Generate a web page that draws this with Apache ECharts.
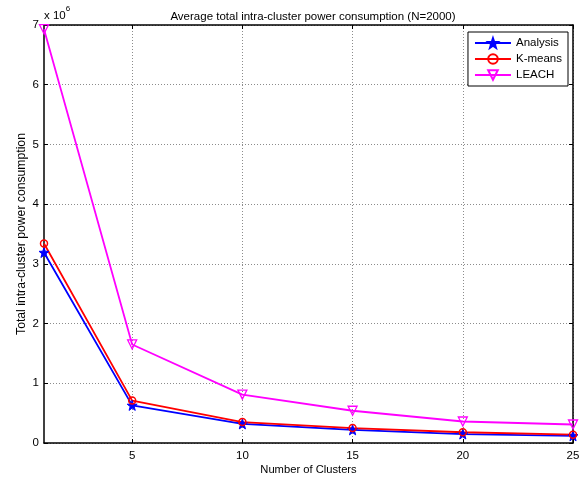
<!DOCTYPE html>
<html>
<head>
<meta charset="utf-8">
<script src="https://cdn.jsdelivr.net/npm/echarts@6/dist/echarts.min.js"></script>
<style>html,body{margin:0;padding:0;background:#fff}#c{width:580px;height:477px}</style>
</head>
<body>
<div id="c"></div>
<script>
const clusters = [1, 5, 10, 15, 20, 25];
const analysis = [3.19e6, 0.63e6, 0.32e6, 0.22e6, 0.15e6, 0.12e6];
const kmeans = [3.34e6, 0.71e6, 0.35e6, 0.25e6, 0.18e6, 0.14e6];
const leach = [6.93e6, 1.65e6, 0.81e6, 0.54e6, 0.36e6, 0.31e6];
const xTicks = [5, 10, 15, 20, 25];
const yTicks = [0, 1, 2, 3, 4, 5, 6, 7];
const seriesNames = ['Analysis', 'K-means', 'LEACH'];

const FONT = 'Liberation Sans, Arial, sans-serif';
const star = 'path://M0,-10 L2.35,-3.24 L9.51,-3.09 L3.80,1.24 L5.88,8.09 L0,4 L-5.88,8.09 L-3.80,1.24 L-9.51,-3.09 L-2.35,-3.24 Z';
const pair = (xs, ys) => xs.map((x, i) => [x, ys[i]]);

const chart = echarts.init(document.getElementById('c'), null, {renderer: 'canvas'});
const gridLine = {show: true, lineStyle: {color: '#8c8c8c', type: [1, 2], width: 1}};
const axisLine = {show: true, onZero: false, lineStyle: {color: '#000', width: 1.5}};
chart.setOption({
  animation: false,
  backgroundColor: '#fff',
  title: {
    text: 'Average total intra-cluster power consumption (N=2000)',
    left: 308, top: 6, textAlign: 'center',
    textStyle: {fontFamily: FONT, fontSize: 11.5, fontWeight: 'normal', color: '#000'}
  },
  graphic: [{
    type: 'text', left: 44, top: 5,
    style: {
      text: '{a|x 10}{b|6}',
      rich: {
        a: {fontFamily: FONT, fontSize: 11.5, fill: '#000', padding: [5, 0, 0, 0]},
        b: {fontFamily: FONT, fontSize: 8, fill: '#000', verticalAlign: 'top'}
      }
    }
  }],
  legend: {
    orient: 'vertical', right: 12, top: 32,
    data: seriesNames,
    backgroundColor: '#fff', borderColor: '#000', borderWidth: 1,
    padding: [5, 6, 5, 6], itemGap: 4, itemWidth: 36, itemHeight: 12,
    textStyle: {fontFamily: FONT, fontSize: 11.5, color: '#000'}
  },
  grid: {left: 44, right: 7, top: 25, bottom: 34, outerBoundsMode: 'none', containLabel: false},
  xAxis: [{
    type: 'value', min: 1, max: 25,
    name: 'Number of Clusters', nameLocation: 'middle', nameGap: 21, nameMoveOverlap: false,
    nameTextStyle: {fontFamily: FONT, fontSize: 11.2, color: '#000'},
    axisLine: axisLine,
    axisTick: {show: true, inside: true, length: 4, customValues: xTicks, lineStyle: {color: '#000'}},
    axisLabel: {customValues: xTicks, fontFamily: FONT, fontSize: 11.5, color: '#000', margin: 7},
    splitLine: gridLine
  }, {
    type: 'value', min: 1, max: 25, position: 'top',
    axisLine: axisLine,
    axisTick: {show: true, inside: true, length: 4, customValues: xTicks, lineStyle: {color: '#000'}},
    axisLabel: {show: false, customValues: xTicks},
    splitLine: {show: false}
  }],
  yAxis: [{
    type: 'value', min: 0, max: 7e6, interval: 1e6,
    name: 'Total intra-cluster power consumption', nameLocation: 'middle', nameGap: 16, nameMoveOverlap: false,
    nameTextStyle: {fontFamily: FONT, fontSize: 12.2, color: '#000'},
    axisLine: axisLine,
    axisTick: {show: true, inside: true, length: 4, lineStyle: {color: '#000'}},
    axisLabel: {fontFamily: FONT, fontSize: 11.5, color: '#000', margin: 5, formatter: v => String(Math.round(v / 1e6))},
    splitLine: gridLine
  }, {
    type: 'value', min: 0, max: 7e6, interval: 1e6, position: 'right',
    axisLine: axisLine,
    axisTick: {show: true, inside: true, length: 4, lineStyle: {color: '#000'}},
    axisLabel: {show: false},
    splitLine: {show: false}
  }],
  series: [{
    name: seriesNames[0], type: 'line', data: pair(clusters, analysis),
    symbol: star, symbolSize: 10,
    lineStyle: {color: '#0000ff', width: 1.8},
    itemStyle: {color: '#0000ff', borderColor: '#0000ff', borderWidth: 1}
  }, {
    name: seriesNames[1], type: 'line', data: pair(clusters, kmeans),
    symbol: 'circle', symbolSize: 7,
    lineStyle: {color: '#ff0000', width: 1.8},
    itemStyle: {color: 'rgba(255,255,255,0)', borderColor: '#ff0000', borderWidth: 1.5}
  }, {
    name: seriesNames[2], type: 'line', data: pair(clusters, leach),
    symbol: 'triangle', symbolRotate: 180, symbolSize: 9,
    lineStyle: {color: '#ff00ff', width: 1.8},
    itemStyle: {color: 'rgba(255,255,255,0)', borderColor: '#ff00ff', borderWidth: 1.3}
  }]
});
</script>
</body>
</html>
